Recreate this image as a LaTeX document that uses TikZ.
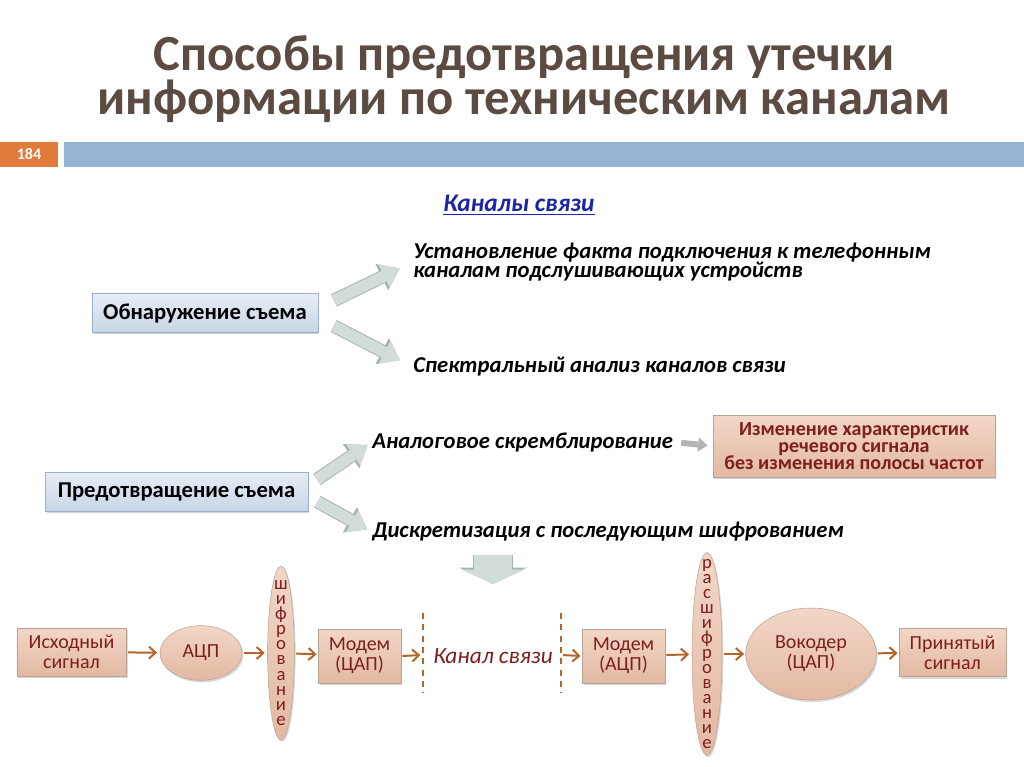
\documentclass[tikz,border=0pt]{standalone}
\usepackage{fontspec}
\setmainfont{Carlito}
\usepackage{tikz}
\usepackage{xcolor}
\usetikzlibrary{arrows.meta,positioning,calc,shapes.geometric,shadows}

\definecolor{titlegray}{HTML}{5C4B43}
\definecolor{pageorange}{HTML}{E07B3C}
\definecolor{barblue}{HTML}{93B5D3}
\definecolor{linkblue}{HTML}{1C25A3}
\definecolor{bluetop}{HTML}{E6EDF5}
\definecolor{bluebot}{HTML}{C7D6E7}
\definecolor{bluerim}{HTML}{9AB0C8}
\definecolor{peachtop}{HTML}{F2D6C6}
\definecolor{peachbot}{HTML}{E2B9A3}
\definecolor{peachrim}{HTML}{B9A396}
\definecolor{darkred}{HTML}{7E1E1E}
\definecolor{flowbrown}{HTML}{B3652A}
\definecolor{fatfill}{HTML}{D2DDD7}
\definecolor{fatrim}{HTML}{A9B5AF}
\definecolor{smallgray}{HTML}{B4B4B4}

\begin{document}
\begin{tikzpicture}[x=0.75pt,y=-0.75pt,every node/.style={inner sep=0pt},
  bluebox/.style={rectangle,draw=bluerim,top color=bluetop,bottom color=bluebot,minimum height=29pt,font=\fontsize{17}{19}\selectfont\bfseries,drop shadow={opacity=0.35,shadow xshift=1pt,shadow yshift=-1.5pt}},
  peachbox/.style={rectangle,draw=peachrim,top color=peachtop,bottom color=peachbot,text=darkred,align=center,font=\fontsize{15}{15}\selectfont,drop shadow={opacity=0.3,shadow xshift=1pt,shadow yshift=-1.5pt}},
  peachell/.style={ellipse,draw=peachrim,top color=peachtop,bottom color=peachbot,text=darkred,align=center,font=\fontsize{15}{15}\selectfont,drop shadow={opacity=0.3,shadow xshift=1pt,shadow yshift=-1.5pt}},
  vtext/.style={text=darkred,align=center,font=\fontsize{14}{11.3}\selectfont},
  itext/.style={anchor=west,align=left,font=\fontsize{17}{14.5}\selectfont\bfseries\itshape},
  flow/.style={draw=flowbrown,line width=1.5pt,-{Straight Barb[length=5pt,width=9pt]}},
  cutline/.style={draw=flowbrown,line width=1.5pt,dash pattern=on 4.5pt off 4pt},
  fat/.style={draw=fatfill,line width=8.5pt,-{Triangle[length=13pt,width=19pt,line width=0pt]},preaction={draw=fatrim,line width=10pt,-{Triangle[length=15pt,width=22pt,line width=0pt]}}},
  bigfat/.style={draw=fatfill,line width=28.5pt,-{Triangle[length=11pt,width=48pt,line width=0pt]},preaction={draw=fatrim,line width=30pt,-{Triangle[length=12.5pt,width=51pt,line width=0pt]}}},
  smallfat/.style={draw=smallgray,line width=4.5pt,-{Triangle[length=7pt,width=11pt,line width=0pt]}}]
\useasboundingbox (0,0) rectangle (1024,767);

\node (title) at (524,79) [align=center,text=titlegray,font=\fontsize{38}{31.5}\selectfont\bfseries] {Способы предотвращения утечки\\информации по техническим каналам};
\node (page) at (29,154.5) [fill=pageorange,minimum width=43.5pt,minimum height=19pt,text=white,font=\fontsize{12}{12}\selectfont\bfseries] {184};
\node (bar) at (544,154.5) [fill=barblue,minimum width=720pt,minimum height=19pt] {};

\node (chans) at (519,205) [text=linkblue,font=\fontsize{19}{19}\selectfont\bfseries\itshape] {\underline{Каналы связи}};

\node (obn) at (205,313) [bluebox,minimum width=169.5pt] {Обнаружение съема};
\node (ust) at (413,262) [itext] {Установление факта подключения к телефонным\\каналам подслушивающих устройств};
\node (spec) at (413,367) [itext] {Спектральный анализ каналов связи};
\draw[fat,shorten <=13pt,shorten >=11pt] ($(obn.east)+(0,-5)$) -- (ust.west);
\draw[fat,shorten <=13pt,shorten >=11pt] ($(obn.east)+(0,5)$) -- (spec.west);

\node (pred) at (176.5,491.5) [bluebox,minimum width=197pt] {Предотвращение съема};
\node (analog) at (372,442) [itext] {Аналоговое скремблирование};
\node (disc) at (372,532) [itext] {Дискретизация с последующим шифрованием};
\draw[fat,shorten <=8pt,shorten >=4pt] ($(pred.east)+(0,-6)$) -- (analog.west);
\draw[fat,shorten <=8pt,shorten >=4pt] ($(pred.east)+(0,5)$) -- (disc.west);

\node (red) at (854,446) [rectangle,draw=peachrim,top color=peachtop,bottom color=peachbot,minimum width=211.5pt,minimum height=46.5pt,align=center,text=darkred,font=\fontsize{15}{13}\selectfont\bfseries,drop shadow={opacity=0.35,shadow xshift=1pt,shadow yshift=-1.5pt}] {Изменение характеристик\\речевого сигнала\\без изменения полосы частот};
\draw[smallfat,shorten <=6pt,shorten >=4pt] (analog.east) -- (red.west);

\node (src) at (71.5,652) [peachbox,minimum width=82pt,minimum height=36pt] {Исходный\\сигнал};
\node (adc) at (201,653) [peachell,minimum width=61.5pt,minimum height=41pt] {АЦП};
\node (enc) at (281,653) [peachell,minimum width=20pt,minimum height=130.5pt,label={[vtext]center:ш\\и\\ф\\р\\о\\в\\а\\н\\и\\е}] {};
\node (mod1) at (359.5,656) [peachbox,minimum width=62pt,minimum height=40.5pt] {Модем\\(ЦАП)};
\coordinate (cut1) at (423,655);
\node (chan) at (493,656) [text=darkred,font=\fontsize{17.5}{17.5}\selectfont\itshape] {Канал связи};
\coordinate (cut2) at (561,655);
\node (mod2) at (623.5,656) [peachbox,minimum width=62pt,minimum height=40.5pt] {Модем\\(АЦП)};
\node (dec) at (707,654) [peachell,minimum width=22.5pt,minimum height=152pt,label={[vtext]center:р\\а\\с\\ш\\и\\ф\\р\\о\\в\\а\\н\\и\\е}] {};
\node (voc) at (811,654) [peachell,minimum width=98pt,minimum height=69pt] {Вокодер\\(ЦАП)};
\node (dst) at (952.5,652.5) [peachbox,minimum width=80pt,minimum height=36pt] {Принятый\\сигнал};

\draw[cutline] ($(cut1)+(0,-42)$) -- ($(cut1)+(0,38)$);
\draw[cutline] ($(cut2)+(0,-42)$) -- ($(cut2)+(0,38)$);

\draw[flow,shorten <=1pt,shorten >=2pt] (src) -- (adc);
\draw[flow,shorten <=1pt,shorten >=2pt] (adc) -- (enc);
\draw[flow,shorten <=1pt,shorten >=1pt] (enc) -- (mod1);
\draw[flow,shorten <=1pt,shorten >=2pt] (mod1.east) -- (cut1);
\draw[flow,shorten <=1.5pt,shorten >=1pt] (cut2) -- (mod2.west);
\draw[flow,shorten <=1pt,shorten >=2pt] (mod2) -- (dec);
\draw[flow,shorten <=1pt,shorten >=1pt] (dec) -- (voc);
\draw[flow,shorten <=1pt,shorten >=1pt] (voc) -- (dst);

\draw[bigfat,shorten <=10pt,shorten >=48pt] (disc.south -| chan.north) -- (chan.north);
\end{tikzpicture}
\end{document}
